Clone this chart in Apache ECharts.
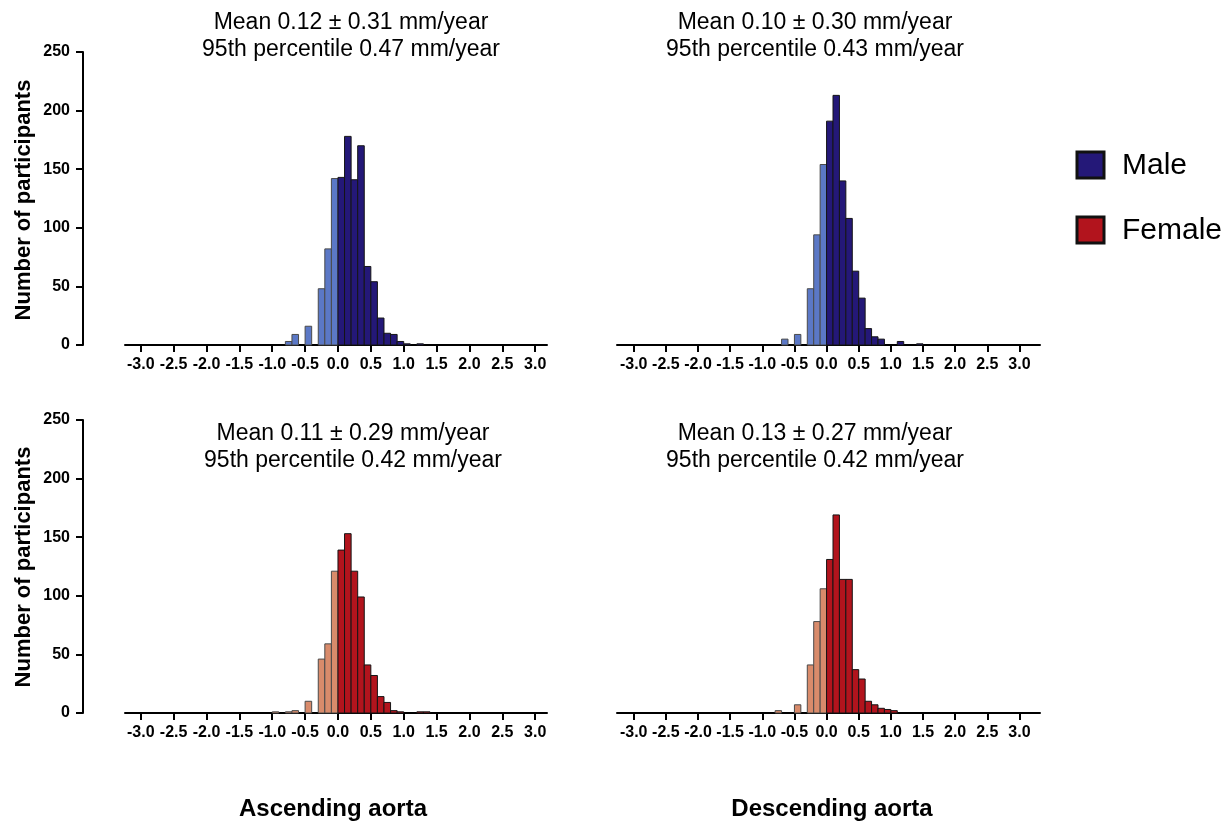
<!DOCTYPE html>
<html>
<head>
<meta charset="utf-8">
<script src="https://cdn.jsdelivr.net/npm/echarts@6/dist/echarts.min.js"></script>
<style>
html,body{margin:0;padding:0;background:#fff;}
#chart{width:1230px;height:823px;}
</style>
</head>
<body>
<div id="chart"></div>
<script>
// ---- data ----
const binStarts = [-1.0,-0.9,-0.8,-0.7,-0.6,-0.5,-0.4,-0.3,-0.2,-0.1,0.0,0.1,0.2,0.3,0.4,0.5,0.6,0.7,0.8,0.9,1.0,1.1,1.2,1.3,1.4];
const binWidth = 0.1;
const maleAscending    = [0,0,3,9,0,16,0,48,82,142,143,178,141,170,67,54,23,10,9,3,1,0,1,0,0];
const maleDescending   = [0,0,0,5,0,9,0,48,94,154,191,213,140,108,63,40,14,7,5,0,0,3,0,0,1];
const femaleAscending  = [1,0,1,2,0,10,0,46,59,121,139,153,121,99,41,32,14,9,2,1,0,0,1,1,0];
const femaleDescending = [0,0,2,0,0,7,0,41,78,106,131,169,114,114,37,29,10,7,4,3,2,0,0,0,0];
const xTicks = [-3.0,-2.5,-2.0,-1.5,-1.0,-0.5,0.0,0.5,1.0,1.5,2.0,2.5,3.0];
const yTicks = [0,50,100,150,200,250];
const panelTitles = [
  "Mean 0.12 \u00b1 0.31 mm/year\n95th percentile 0.47 mm/year",
  "Mean 0.10 \u00b1 0.30 mm/year\n95th percentile 0.43 mm/year",
  "Mean 0.11 \u00b1 0.29 mm/year\n95th percentile 0.42 mm/year",
  "Mean 0.13 \u00b1 0.27 mm/year\n95th percentile 0.42 mm/year"
];
const columnLabels = ["Ascending aorta","Descending aorta"];
const yAxisLabel = "Number of participants";
const legendNames = ["Male","Female"];

// ---- styles ----
const FONT = "'Liberation Sans', Arial, Helvetica, sans-serif";
const COLORS = {
  male:   {dark:'#241878', light:'#5b78c6'},
  female: {dark:'#b2141d', light:'#d98b6b'}
};

const panels = [
  {data: maleAscending,    col: COLORS.male,   grid:{left:125, top:52,  width:422, height:293}, x:[-3.24,3.18], yShow:true},
  {data: maleDescending,   col: COLORS.male,   grid:{left:617, top:52,  width:423, height:293}, x:[-3.26,3.32], yShow:false},
  {data: femaleAscending,  col: COLORS.female, grid:{left:125, top:420, width:422, height:293}, x:[-3.24,3.18], yShow:true},
  {data: femaleDescending, col: COLORS.female, grid:{left:617, top:420, width:423, height:293}, x:[-3.26,3.32], yShow:false}
];

const grids = [], xAxes = [], yAxes = [], series = [];
panels.forEach((p, i) => {
  grids.push(Object.assign({}, p.grid));
  xAxes.push({
    type:'value', gridIndex:i, min:p.x[0], max:p.x[1],
    axisLine:{show:true, onZero:false, lineStyle:{color:'#000', width:2}},
    axisTick:{show:true, length:7, lineStyle:{color:'#000', width:2}, customValues: xTicks},
    axisLabel:{show:true, customValues: xTicks, formatter:v => v.toFixed(1), color:'#000', fontFamily:FONT, fontWeight:'bold', fontSize:16, margin:12},
    splitLine:{show:false}
  });
  yAxes.push({
    type:'value', gridIndex:i, min:0, max:250, interval:50, offset: p.yShow ? 42 : 0,
    show: p.yShow,
    axisLine:{show:true, onZero:false, lineStyle:{color:'#000', width:2}},
    axisTick:{show:true, length:7, lineStyle:{color:'#000', width:2}},
    axisLabel:{color:'#000', fontFamily:FONT, fontWeight:'bold', fontSize:16, margin:13},
    splitLine:{show:false}
  });
  const pts = [];
  binStarts.forEach((b, k) => { if (p.data[k] > 0) pts.push([b, p.data[k]]); });
  series.push({
    type:'custom', xAxisIndex:i, yAxisIndex:i, data: pts,
    renderItem: (params, api) => {
      const x0 = api.value(0), c = api.value(1);
      const a = api.coord([x0, c]);
      const b = api.coord([x0 + binWidth, 0]);
      const neg = x0 < 0;
      return {
        type:'rect',
        shape:{x:a[0], y:a[1], width:b[0]-a[0], height:b[1]-a[1]},
        style:{fill: neg ? p.col.light : p.col.dark, stroke: neg ? '#4a4a4a' : '#151515', lineWidth:1}
      };
    }
  });
});

const titleCenters = [[346,4],[810,4],[348,415],[810,415]];
const titles = panelTitles.map((t, i) => ({
  text: t, left: titleCenters[i][0], top: titleCenters[i][1], textAlign:'center',
  textStyle:{fontFamily:FONT, fontWeight:'normal', fontSize:23, color:'#000', lineHeight:27}
}));
[[328,'Ascending aorta'],[827,'Descending aorta']].forEach((c, i) => {
  titles.push({text: columnLabels[i], left:c[0], top:792, textAlign:'center',
    textStyle:{fontFamily:FONT, fontWeight:'bold', fontSize:24, color:'#000'}});
});

const graphics = [];
[200, 567].forEach(cy => {
  graphics.push({type:'text', x:24, y:cy, rotation:Math.PI/2,
    style:{text:yAxisLabel, font:'bold 22px ' + FONT, fill:'#000', textAlign:'center', textVerticalAlign:'middle'}});
});
[[165, COLORS.male.dark],[230, COLORS.female.dark]].forEach((l, i) => {
  graphics.push({type:'rect', shape:{x:1077, y:l[0]-13, width:27, height:26},
    style:{fill:l[1], stroke:'#111', lineWidth:3}});
  graphics.push({type:'text', x:1122, y:l[0]+1,
    style:{text:legendNames[i], font:'30px ' + FONT, fill:'#000', textVerticalAlign:'middle'}});
});

const chart = echarts.init(document.getElementById('chart'), null, {renderer:'canvas'});
chart.setOption({
  backgroundColor:'#fff',
  animation:false,
  title: titles,
  grid: grids,
  xAxis: xAxes,
  yAxis: yAxes,
  series: series,
  graphic: graphics
});
</script>
</body>
</html>
